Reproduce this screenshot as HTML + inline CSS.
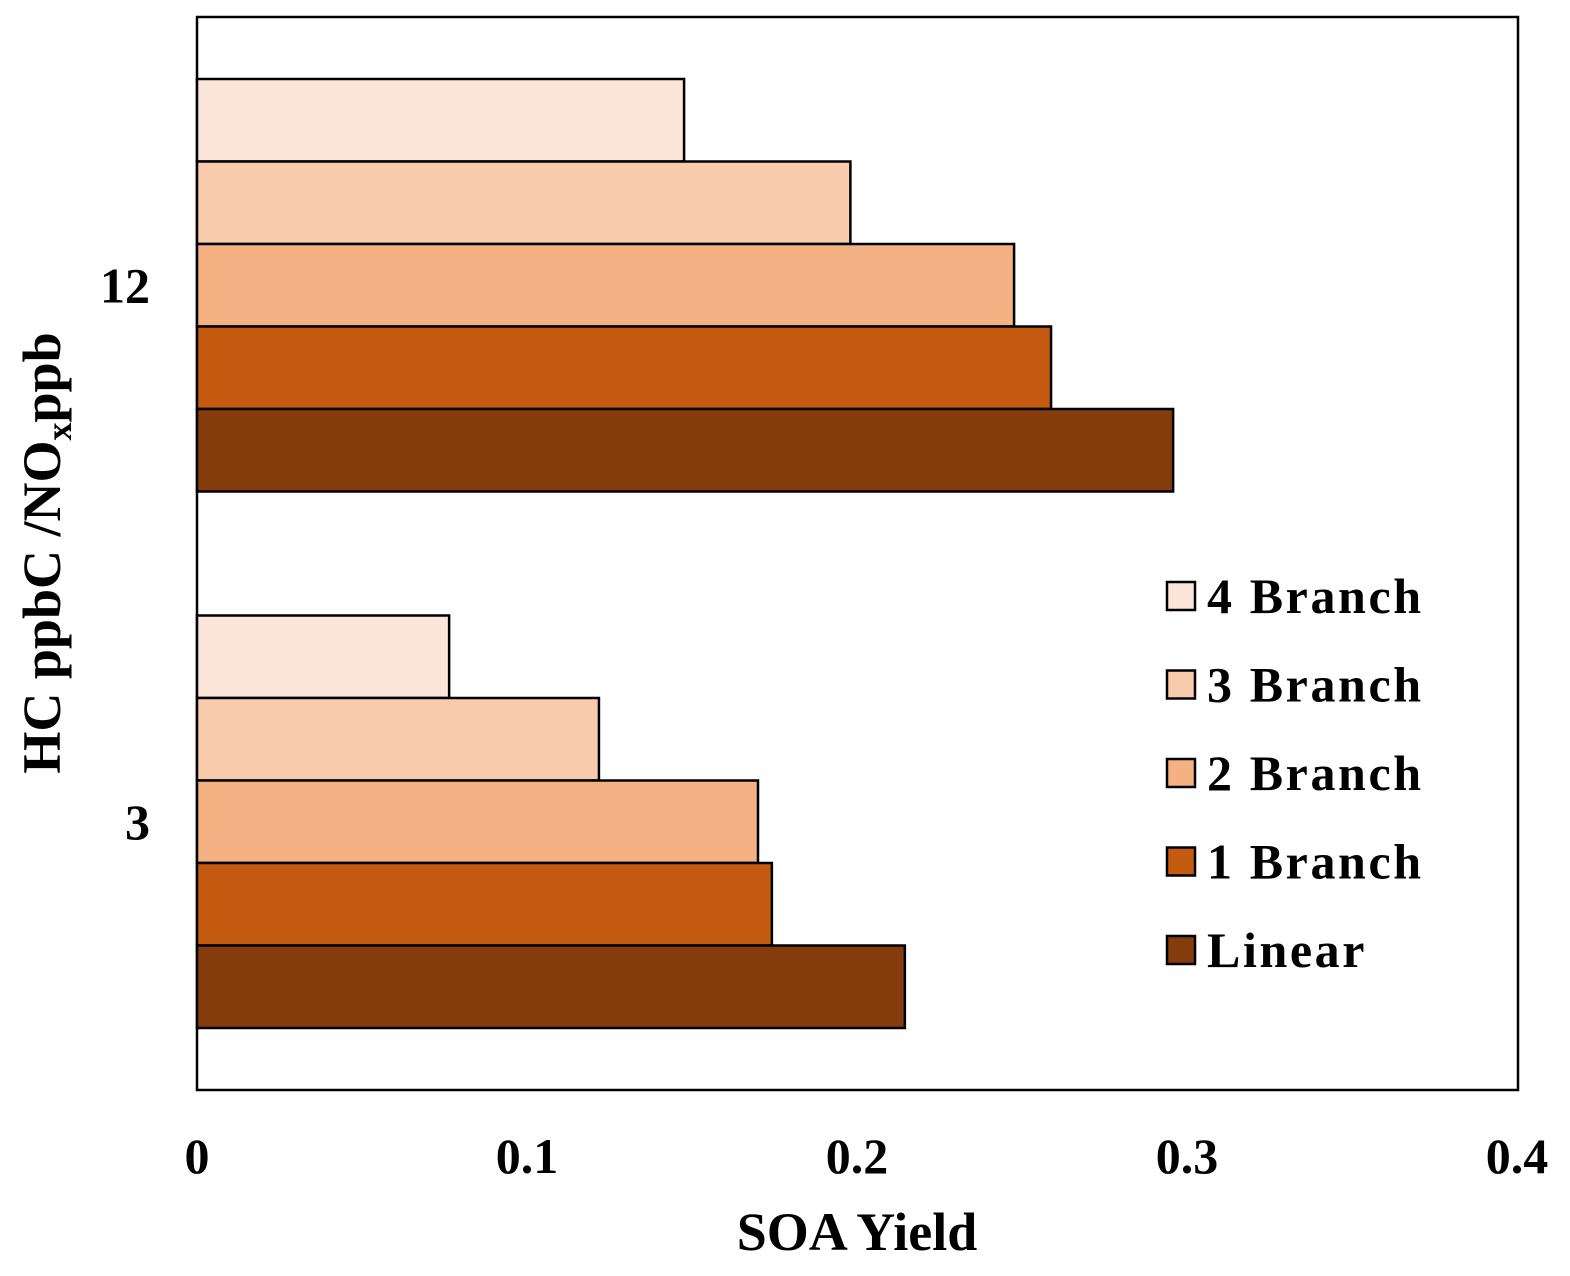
<!DOCTYPE html>
<html><head><meta charset="utf-8"><style>
body{margin:0;background:#fff}
svg text{font-family:"Liberation Serif",serif;font-weight:bold;fill:#000}
</style></head><body>
<svg id="chart" width="1570" height="1271">
<rect x="197" y="17" width="1321" height="1073" fill="#fff" stroke="#000" stroke-width="2.5"/>
<g id="bars"></g><g id="ticks"></g><g id="legend"></g>
<text x="857" y="1250" font-size="54" text-anchor="middle">SOA Yield</text>
<text transform="translate(60,553) rotate(-90)" font-size="54" text-anchor="middle">HC ppbC /NO<tspan font-size="36" dy="11">x</tspan><tspan dy="-11">ppb</tspan></text>
</svg>
<script>
const categories=["12","3"];
const seriesNames=["4 Branch","3 Branch","2 Branch","1 Branch","Linear"];
const colors=["#FBE5D9","#F8CBAD","#F4B183","#C55A11","#843C0C"];
const vals4=[0.1476,0.0764];
const vals3=[0.198,0.1218];
const vals2=[0.2476,0.1700];
const vals1=[0.2588,0.1742];
const valsLin=[0.2958,0.2145];
const xTicks=[0,0.1,0.2,0.3,0.4];
const series=[vals4,vals3,vals2,vals1,valsLin];
const ns="http://www.w3.org/2000/svg";
const X0=197,X1=1517,Y0=17,Y1=1090;
const xs=v=>X0+v/0.4*(X1-X0);
const band=(Y1-Y0)/categories.length;
const barH=82.5;
const bars=document.getElementById('bars'),ticks=document.getElementById('ticks'),leg=document.getElementById('legend');
categories.forEach((c,ci)=>{
  const cy=Y0+band*(ci+0.5);
  const top=cy-barH*series.length/2;
  series.forEach((s,si)=>{
    const r=document.createElementNS(ns,'rect');
    r.setAttribute('x',X0);r.setAttribute('y',top+si*barH);
    r.setAttribute('width',xs(s[ci])-X0);r.setAttribute('height',barH);
    r.setAttribute('fill',colors[si]);r.setAttribute('stroke','#000');r.setAttribute('stroke-width','2.5');
    
    
    bars.appendChild(r);
  });
  const t=document.createElementNS(ns,'text');
  t.setAttribute('x',150);t.setAttribute('y',cy+17);t.setAttribute('text-anchor','end');t.setAttribute('font-size','50');
  t.textContent=c;
  
  
  ticks.appendChild(t);
});
xTicks.forEach(v=>{
  const t=document.createElementNS(ns,'text');
  t.setAttribute('x',xs(v));t.setAttribute('y',1173);t.setAttribute('text-anchor','middle');t.setAttribute('font-size','50');
  t.textContent=String(v);
  
  
  ticks.appendChild(t);
});
seriesNames.forEach((n,i)=>{
  const y=582+i*88.5;
  const r=document.createElementNS(ns,'rect');
  r.setAttribute('x',1167);r.setAttribute('y',y);r.setAttribute('width',28);r.setAttribute('height',28);
  r.setAttribute('fill',colors[i]);r.setAttribute('stroke','#000');r.setAttribute('stroke-width','2.5');
  
  
  leg.appendChild(r);
  const t=document.createElementNS(ns,'text');
  t.setAttribute('x',1207);t.setAttribute('y',y+31);t.setAttribute('font-size','50');t.setAttribute('letter-spacing','2.6');
  t.textContent=n;
  
  
  leg.appendChild(t);
});
</script>
</body></html>
